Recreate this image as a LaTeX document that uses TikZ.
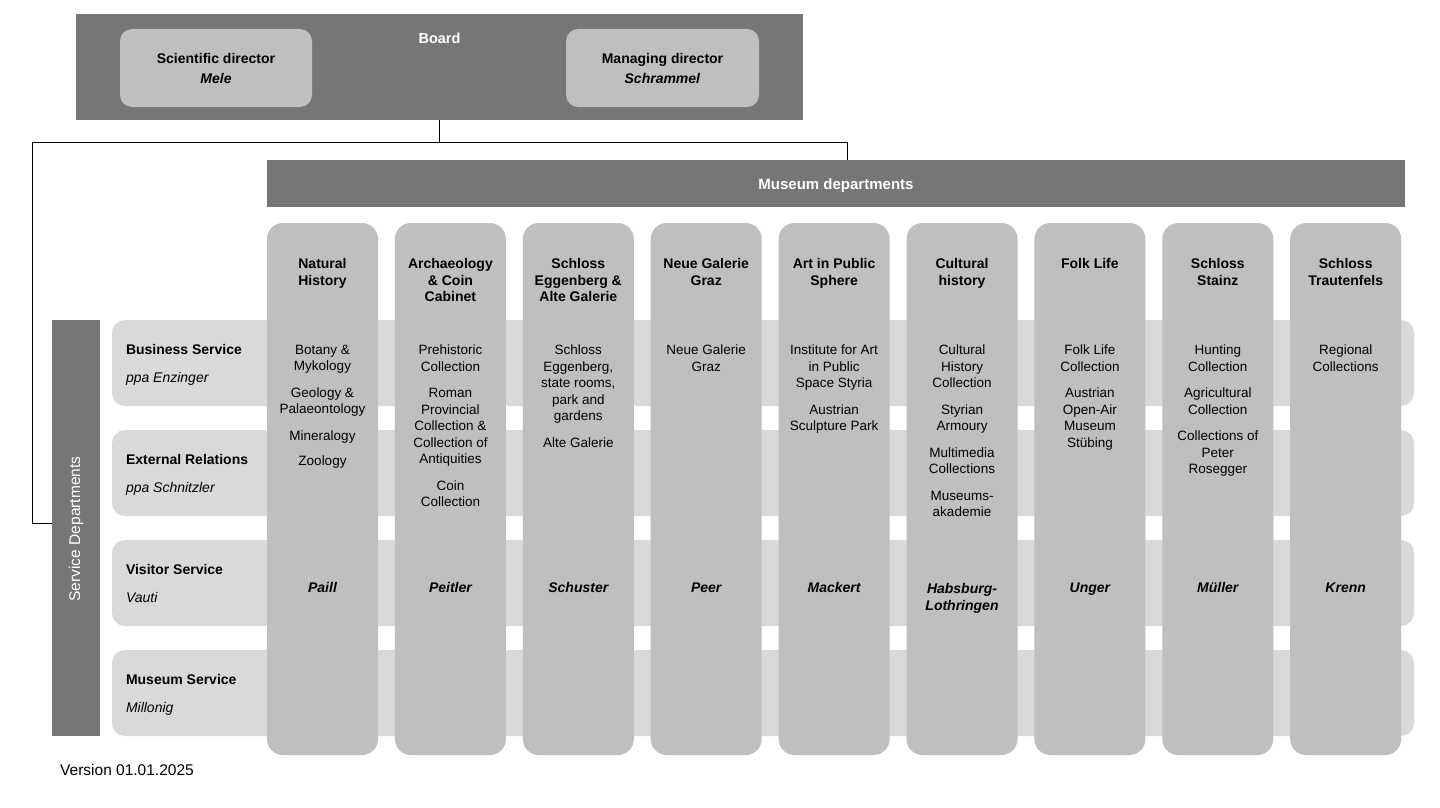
\documentclass[tikz,border=0pt]{standalone}
\usepackage{fontspec}
\setmainfont{Liberation Sans}
\usetikzlibrary{positioning}
\definecolor{bargray}{HTML}{767676}
\definecolor{colgray}{HTML}{BFBFBF}
\definecolor{rowgray}{HTML}{D9D9D9}
\begin{document}
\begin{tikzpicture}[x=1pt, y=-1pt,
  bar/.style={fill=bargray, inner sep=0pt, text=white},
  colbox/.style={fill=colgray, rounded corners=16pt, minimum width=111pt, minimum height=532pt, inner sep=0pt},
  rowbox/.style={fill=rowgray, rounded corners=13pt, minimum width=1302pt, minimum height=86pt, inner sep=0pt},
  director/.style={fill=colgray, rounded corners=12pt, minimum width=192pt, minimum height=78pt, inner sep=0pt, align=center, font=\fontsize{14}{17}\selectfont\bfseries},
  colhead/.style={anchor=north, inner sep=0pt, align=center, font=\fontsize{14}{16.5}\selectfont\bfseries, execute at begin node=\strut},
  colitem/.style={anchor=north, inner sep=0pt, align=center, font=\fontsize{13.5}{16.5}\selectfont, execute at begin node=\strut},
  colname/.style={colitem, font=\fontsize{14}{17}\selectfont\bfseries\itshape},
  rowlabel/.style={anchor=north west, inner sep=0pt, align=left, font=\fontsize{14}{17}\selectfont, execute at begin node=\strut},
  link/.style={line width=1pt}
]
\path[fill=white, use as bounding box] (0,0) rectangle (1440,808);

% Board
\node[bar, minimum width=727pt, minimum height=106pt] (board) at (439.5,67) {};
\node[colhead, text=white, font=\fontsize{14.5}{17.5}\selectfont\bfseries, below=17pt of board.north] (boardtitle) {Board};
\node[director] (scidir) at (216,68) {Scientific director\\[3pt]\textit{Mele}};
\node[director, minimum width=193pt] (mandir) at (662.5,68) {Managing director\\[3pt]\textit{Schrammel}};

% Museum departments and service departments
\node[bar, minimum width=1138pt, minimum height=47pt] (museum) at (836,183.5) {};
\node[text=white, font=\fontsize{15}{18}\selectfont\bfseries] (museumtitle) at ([yshift=-2pt]museum.center) {Museum departments};
\node[bar, minimum width=48pt, minimum height=416pt] (service) at (76,528) {};
\node[rotate=90, text=white, font=\fontsize{15.5}{18}\selectfont] (servicetitle) at ([yshift=-1pt]service.center) {Service Departments};

% Connectors
\coordinate (split) at (439.5,142);
\draw[link] (board.south) -- (split) -| ([xshift=11pt]museum.north);
\draw[link] (split) -| ([xshift=-19pt,yshift=5pt]service.west) -- ([yshift=5pt]service.west);

% Rows
\foreach \r/\y in {A/363,B/473,C/583,D/693}
  \node[rowbox] (row\r) at (763,\y) {};
\node[rowlabel] (labA) at ([xshift=14pt,yshift=-24pt]rowA.north west) {\textbf{Business Service}\\[11pt]\textit{ppa Enzinger}};
\node[rowlabel] (labB) at ([xshift=14pt,yshift=-24pt]rowB.north west) {\textbf{External Relations}\\[11pt]\textit{ppa Schnitzler}};
\node[rowlabel] (labC) at ([xshift=14pt,yshift=-24pt]rowC.north west) {\textbf{Visitor Service}\\[11pt]\textit{Vauti}};
\node[rowlabel] (labD) at ([xshift=14pt,yshift=-24pt]rowD.north west) {\textbf{Museum Service}\\[11pt]\textit{Millonig}};

% Columns
\foreach \i in {1,...,9}
  \node[colbox] (col\i) at ({322.5+127.9*(\i-1)},489) {};

% Column headings
\node[colhead, below=35.5pt of col1.north] (head1) {Natural\\History};
\node[colhead, below=35.5pt of col2.north] (head2) {Archaeology\\\& Coin\\Cabinet};
\node[colhead, below=35.5pt of col3.north] (head3) {Schloss\\Eggenberg \&\\Alte Galerie};
\node[colhead, below=35.5pt of col4.north] (head4) {Neue Galerie\\Graz};
\node[colhead, below=35.5pt of col5.north] (head5) {Art in Public\\Sphere};
\node[colhead, below=35.5pt of col6.north] (head6) {Cultural\\history};
\node[colhead, below=33.5pt of col7.north] (head7) {Folk Life};
\node[colhead, below=35.5pt of col8.north] (head8) {Schloss\\Stainz};
\node[colhead, below=35.5pt of col9.north] (head9) {Schloss\\Trautenfels};

% Collections
\node[colitem, below=122pt of col1.north] (items1) {Botany \&\\Mykology\\[10pt]Geology \&\\Palaeontology\\[10pt]Mineralogy\\[8.5pt]Zoology};
\node[colitem, below=122pt of col2.north] (items2) {Prehistoric\\Collection\\[10pt]Roman\\Provincial\\Collection \&\\Collection of\\Antiquities\\[10pt]Coin\\Collection};
\node[colitem, below=122pt of col3.north] (items3) {Schloss\\Eggenberg,\\state rooms,\\park and\\gardens\\[10pt]Alte Galerie};
\node[colitem, below=122pt of col4.north] (items4) {Neue Galerie\\Graz};
\node[colitem, below=122pt of col5.north] (items5) {Institute for Art\\in Public\\Space Styria\\[10pt]Austrian\\Sculpture Park};
\node[colitem, below=122pt of col6.north] (items6) {Cultural\\History\\Collection\\[10pt]Styrian\\Armoury\\[10pt]Multimedia\\Collections\\[10pt]Museums-\\akademie};
\node[colitem, below=122pt of col7.north] (items7) {Folk Life\\Collection\\[10pt]Austrian\\Open-Air\\Museum\\Stübing};
\node[colitem, below=122pt of col8.north] (items8) {Hunting\\Collection\\[10pt]Agricultural\\Collection\\[10pt]Collections of\\Peter\\Rosegger};
\node[colitem, below=122pt of col9.north] (items9) {Regional\\Collections};

% Heads of departments
\node[colname, below=357.5pt of col1.north] (name1) {Paill};
\node[colname, below=357.5pt of col2.north] (name2) {Peitler};
\node[colname, below=357.5pt of col3.north] (name3) {Schuster};
\node[colname, below=357.5pt of col4.north] (name4) {Peer};
\node[colname, below=357.5pt of col5.north] (name5) {Mackert};
\node[colname, below=360.5pt of col6.north] (name6) {Habsburg-\\Lothringen};
\node[colname, below=357.5pt of col7.north] (name7) {Unger};
\node[colname, below=357.5pt of col8.north] (name8) {Müller};
\node[colname, below=357.5pt of col9.north] (name9) {Krenn};

% Version
\node[anchor=west, inner sep=0pt, font=\fontsize{15.5}{18}\selectfont] (version) at (60,770) {Version 01.01.2025};
\end{tikzpicture}
\end{document}
